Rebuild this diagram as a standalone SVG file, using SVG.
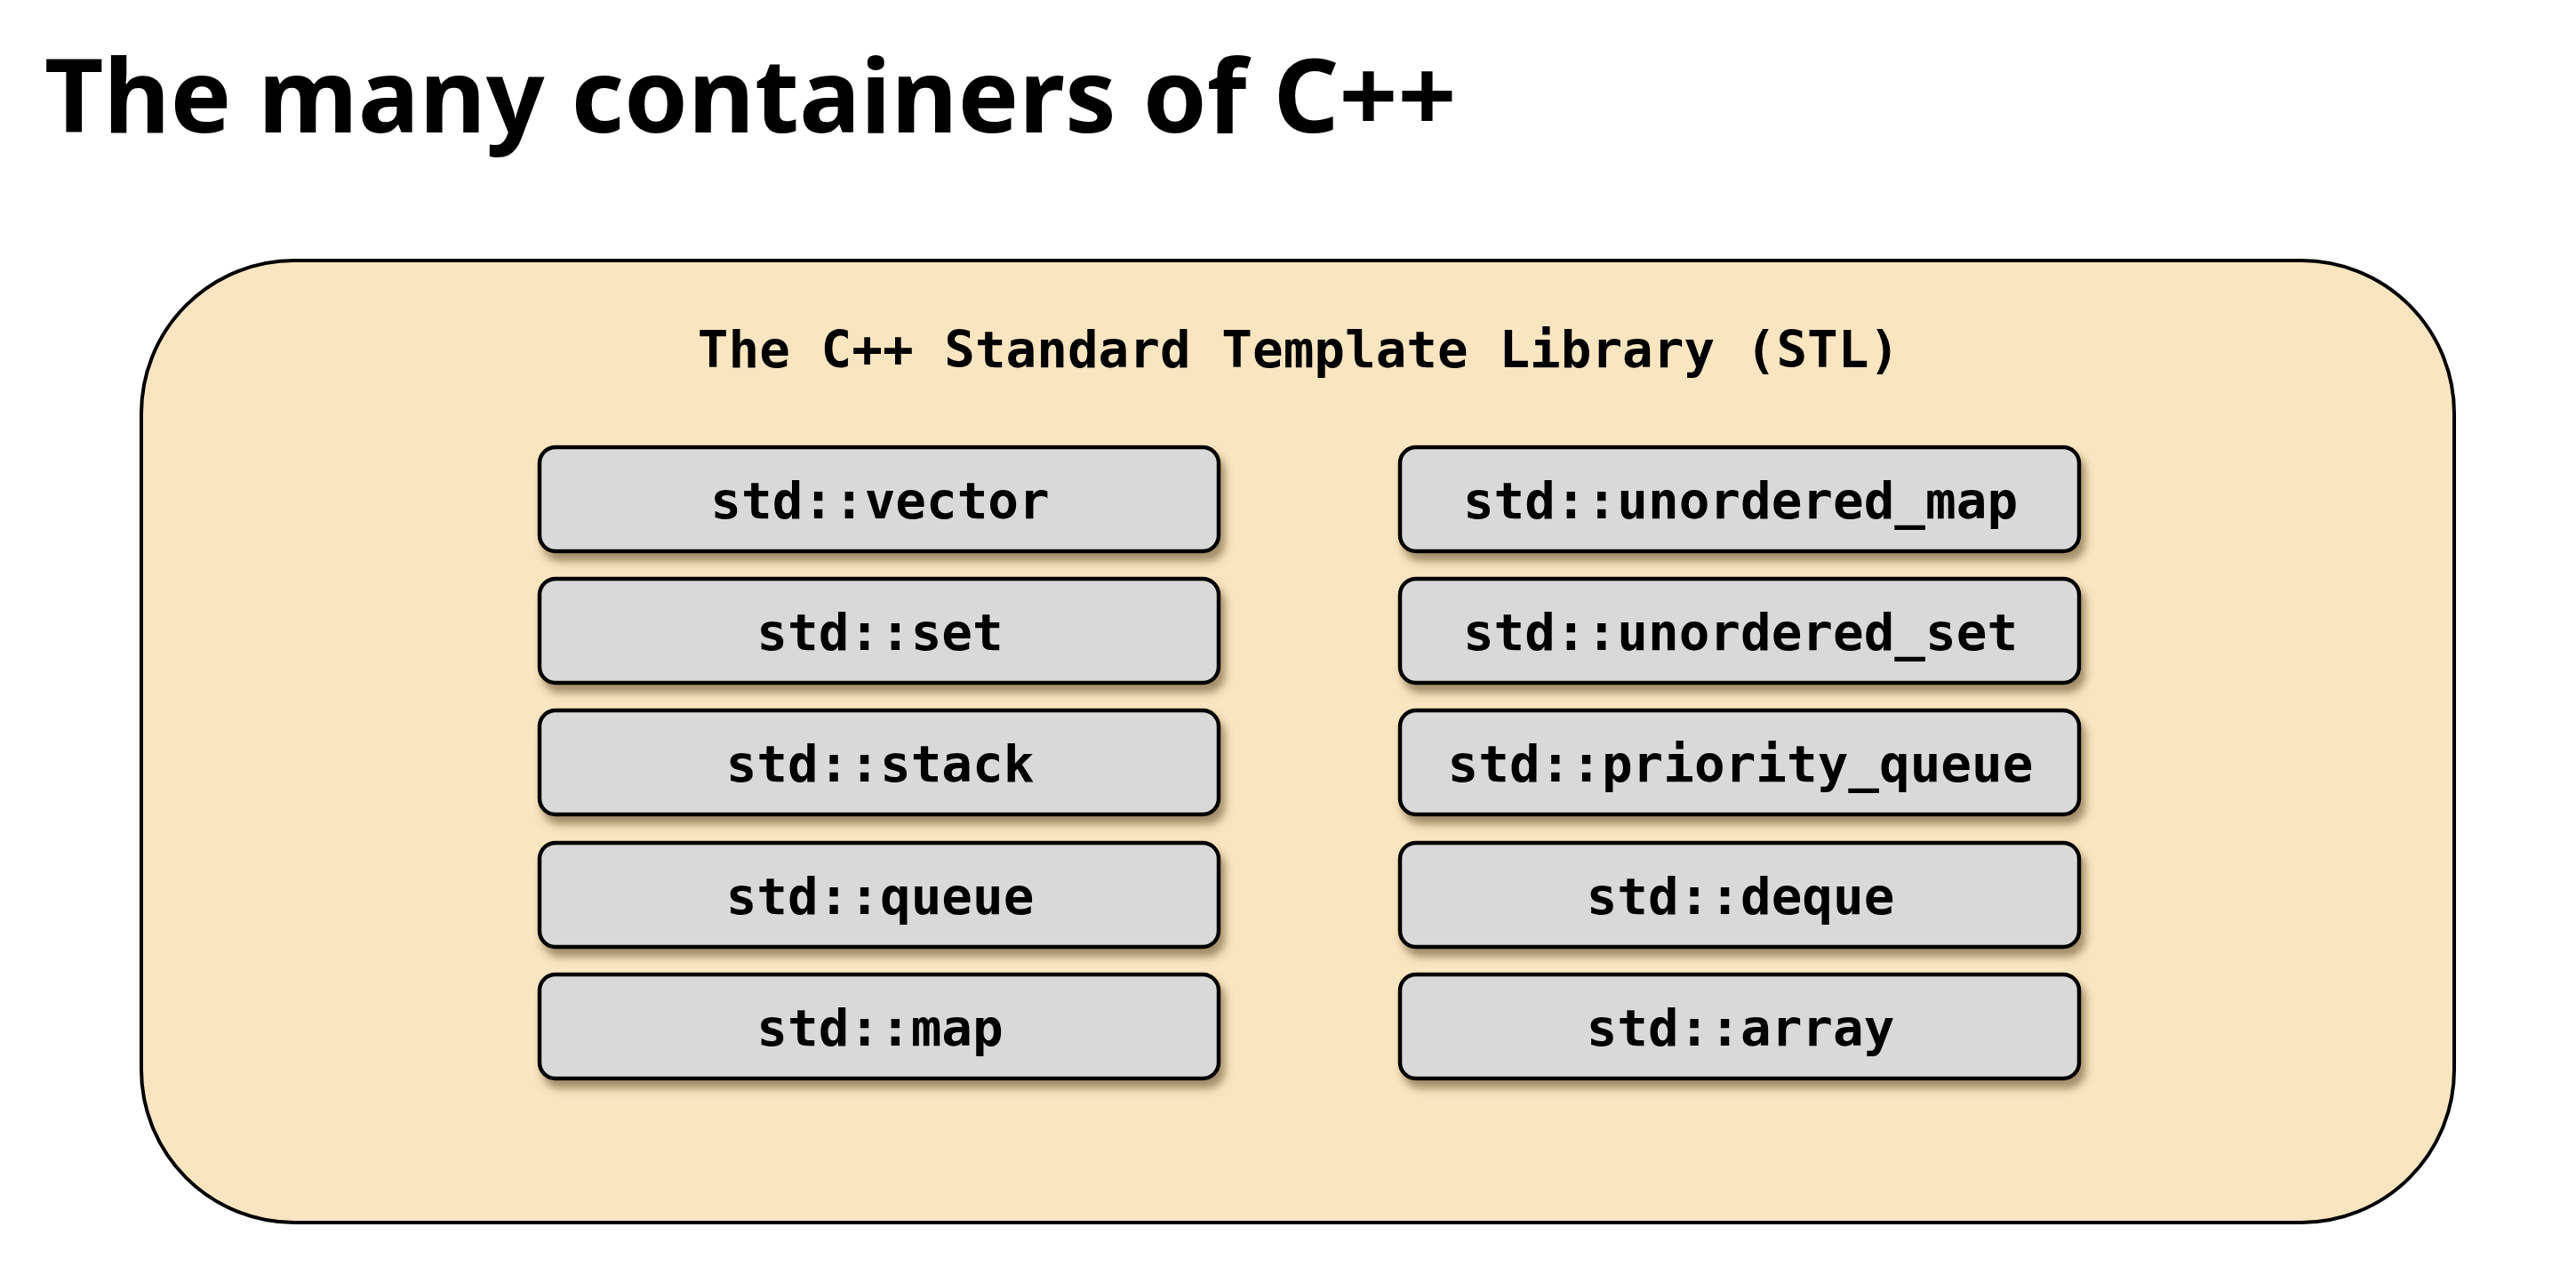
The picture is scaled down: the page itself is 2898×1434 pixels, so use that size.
<svg xmlns="http://www.w3.org/2000/svg" width="2898" height="1434" viewBox="0 0 2898 1434">
  <defs>
    <filter id="shadow" x="-10%" y="-20%" width="130%" height="160%">
      <feGaussianBlur in="SourceAlpha" stdDeviation="5"/>
      <feOffset dx="5" dy="9" result="b"/>
      <feFlood flood-color="#5a4520" flood-opacity="0.55"/>
      <feComposite in2="b" operator="in"/>
      <feMerge><feMergeNode/><feMergeNode in="SourceGraphic"/></feMerge>
    </filter>
  </defs>
  <style>
    .title { font-family: "Noto Sans", "Open Sans", sans-serif; font-weight: bold; font-size: 115.3px; fill: #000; }
    .mono { font-family: "DejaVu Sans Mono", monospace; font-weight: bold; font-size: 57.6px; fill: #000; text-anchor: middle; }
    .outer { fill: #fae5c1; stroke: #000; stroke-width: 4; }
    .box { fill: #d9d9d9; stroke: #000; stroke-width: 4.5; }
  </style>
  <rect width="2898" height="1434" fill="#ffffff"/>
  <text class="title" x="50" y="149">The many containers of C++</text>
  <g id="stl">
    <rect class="outer" x="159" y="293" width="2602" height="1082" rx="172" ry="172"/>
    <text class="mono" x="1461" y="413">The C++ Standard Template Library (STL)</text>
  </g>
  <g id="connectors"></g>
  <g id="vector" filter="url(#shadow)">
    <rect class="box" x="607" y="503" width="764" height="117" rx="18"/>
    <text class="mono" x="990" y="583">std::vector</text>
  </g>
  <g id="set" filter="url(#shadow)">
    <rect class="box" x="607" y="651" width="764" height="117" rx="18"/>
    <text class="mono" x="990" y="731">std::set</text>
  </g>
  <g id="stack" filter="url(#shadow)">
    <rect class="box" x="607" y="799" width="764" height="117" rx="18"/>
    <text class="mono" x="990" y="879">std::stack</text>
  </g>
  <g id="queue" filter="url(#shadow)">
    <rect class="box" x="607" y="948" width="764" height="117" rx="18"/>
    <text class="mono" x="990" y="1028">std::queue</text>
  </g>
  <g id="map" filter="url(#shadow)">
    <rect class="box" x="607" y="1096" width="764" height="117" rx="18"/>
    <text class="mono" x="990" y="1176">std::map</text>
  </g>
  <g id="unordered_map" filter="url(#shadow)">
    <rect class="box" x="1575" y="503" width="764" height="117" rx="18"/>
    <text class="mono" x="1958" y="583">std::unordered_map</text>
  </g>
  <g id="unordered_set" filter="url(#shadow)">
    <rect class="box" x="1575" y="651" width="764" height="117" rx="18"/>
    <text class="mono" x="1958" y="731">std::unordered_set</text>
  </g>
  <g id="priority_queue" filter="url(#shadow)">
    <rect class="box" x="1575" y="799" width="764" height="117" rx="18"/>
    <text class="mono" x="1958" y="879">std::priority_queue</text>
  </g>
  <g id="deque" filter="url(#shadow)">
    <rect class="box" x="1575" y="948" width="764" height="117" rx="18"/>
    <text class="mono" x="1958" y="1028">std::deque</text>
  </g>
  <g id="array" filter="url(#shadow)">
    <rect class="box" x="1575" y="1096" width="764" height="117" rx="18"/>
    <text class="mono" x="1958" y="1176">std::array</text>
  </g>
</svg>
